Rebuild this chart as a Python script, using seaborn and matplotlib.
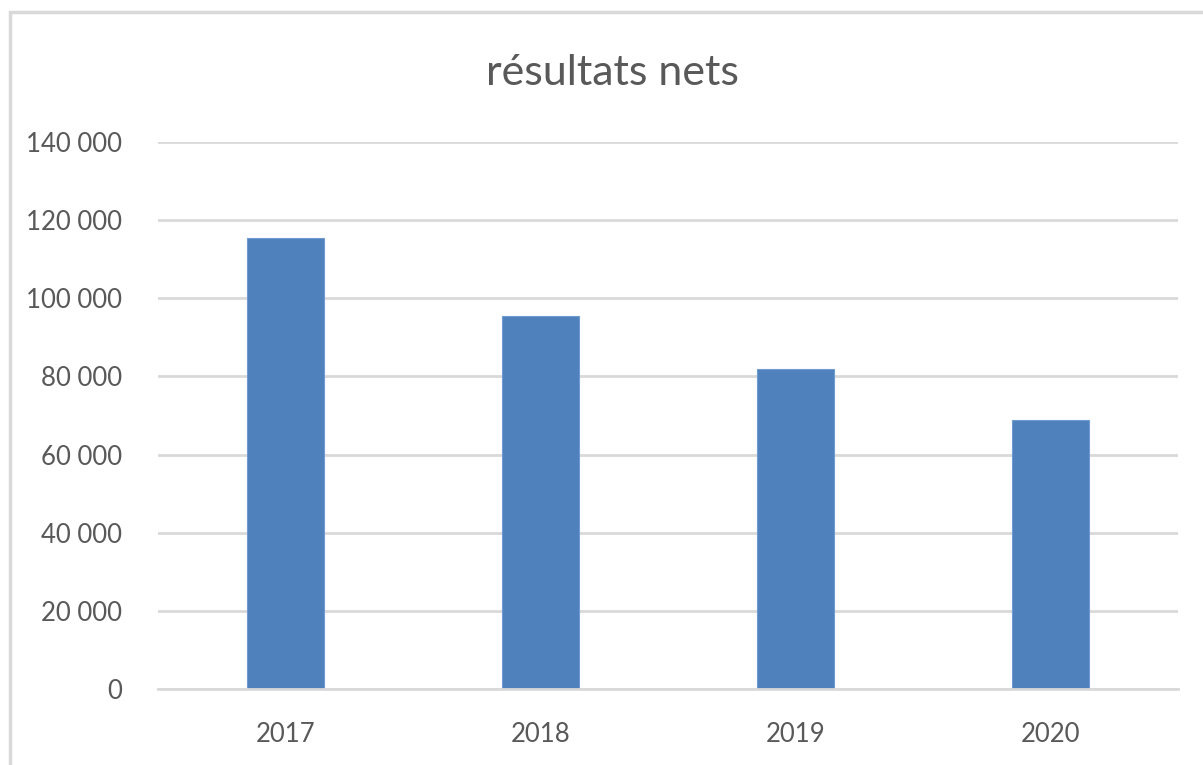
import matplotlib
matplotlib.use('Agg')
import matplotlib.pyplot as plt
import seaborn as sns
import pandas as pd
from matplotlib.ticker import FuncFormatter
from matplotlib.patches import Rectangle

# données
annees = ['2017', '2018', '2019', '2020']
resultats = [115400, 95500, 81800, 68900]

sns.set_style('white')
plt.rcParams['font.family'] = ['Lato', 'DejaVu Sans']

df = pd.DataFrame({'annee': annees, 'resultat': resultats})

fig = plt.figure(figsize=(12.03, 7.65), dpi=100)
ax = fig.add_axes([0.1313, 0.0993, 0.8479, 0.7151])

sns.barplot(data=df, x='annee', y='resultat', color='#4F81BD',
            width=0.305, saturation=1, edgecolor='#6F9BD1', linewidth=0.8, ax=ax)

ax.set_ylim(0, 140000)
ax.set_xlim(-0.5, 3.5)
ax.set_yticks(range(0, 140001, 20000))
ax.yaxis.set_major_formatter(FuncFormatter(lambda v, p: f'{int(v):,}'.replace(',', ' ')))
ax.grid(axis='y', color='#D9D9D9', linewidth=2)
ax.set_axisbelow(True)
for s in ['top', 'right', 'left']:
    ax.spines[s].set_visible(False)
ax.spines['bottom'].set_color('#D9D9D9')
ax.spines['bottom'].set_linewidth(2)
ax.tick_params(axis='both', length=0, labelsize=18.5, labelcolor='#595959')
ax.tick_params(axis='y', pad=26)
ax.tick_params(axis='x', pad=24)
ax.set_xlabel('')
ax.set_ylabel('')

fig.text(0.509, 0.905, 'résultats nets', ha='center', va='center',
         fontsize=31, color='#595959')

# cadre du graphique
fig.patches.append(Rectangle((10 / 1203, -0.05), 1.2, 1 - 12 / 765 + 0.05,
                             transform=fig.transFigure, fill=False,
                             edgecolor='#D9D9D9', linewidth=2.5))

fig.savefig('out.png', dpi=100)
